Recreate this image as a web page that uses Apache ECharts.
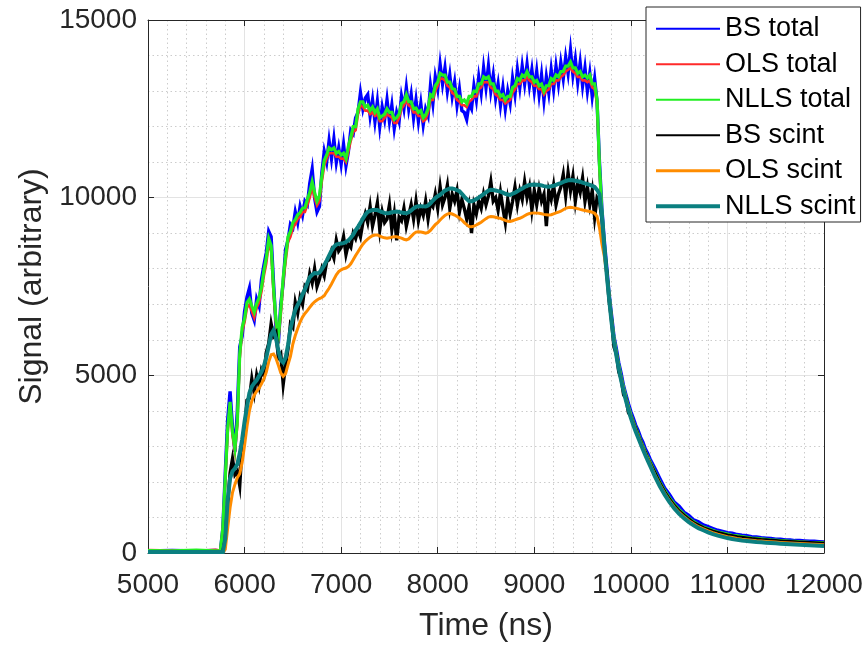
<!DOCTYPE html>
<html>
<head>
<meta charset="utf-8">
<script src="https://cdn.jsdelivr.net/npm/echarts@6/dist/echarts.min.js"></script>
<style>
html,body{margin:0;padding:0;background:#fff;}
#chart{width:868px;height:648px;}
</style>
</head>
<body>
<div id="chart"></div>
<script>
// Time axis (ns) shared by all series
const timeNs = [
5000,5250,5500,5700,5750,
5775,5800,5825,5850,5875,5900,5925,5950,5975,6000,
6025,6050,6075,6100,6125,6150,6175,6200,6225,6250,
6275,6300,6325,6350,6375,6400,6425,6450,6475,6500,
6525,6550,6575,6600,6625,6650,6675,6700,6725,6750,
6775,6800,6825,6850,6875,6900,6925,6950,6975,7000,
7025,7050,7075,7100,7125,7150,7175,7200,7225,7250,
7275,7300,7325,7350,7375,7400,7425,7450,7475,7500,
7525,7550,7575,7600,7625,7650,7675,7700,7725,7750,
7775,7800,7825,7850,7875,7900,7925,7950,7975,8000,
8025,8050,8075,8100,8125,8150,8175,8200,8225,8250,
8275,8300,8325,8350,8375,8400,8425,8450,8475,8500,
8525,8550,8575,8600,8625,8650,8675,8700,8725,8750,
8775,8800,8825,8850,8875,8900,8925,8950,8975,9000,
9025,9050,9075,9100,9125,9150,9175,9200,9225,9250,
9275,9300,9325,9350,9375,9400,9425,9450,9475,9500,
9525,9550,9575,9600,9625,9650,9675,9700,9725,9750,
9775,9800,9825,9850,9875,9900,9925,9950,9975,10000,
10025,10050,10075,10100,10125,10150,10175,10200,
10250,10300,10350,10400,10450,10500,10550,10600,10650,10700,10750,10800,
10850,10900,10950,11000,11050,11100,11150,11200,11250,11300,11350,11400,
11450,11500,11550,11600,11650,11700,11750,11800,11850,11900,11950,12000
];

const bsTotal = [
60,70,60,70,60,
700,2250,3750,4550,3550,2850,4000,5800,6100,6800,
7200,7450,6750,6550,7150,6950,7700,8100,8450,9050,
8900,7600,6400,5900,7000,7600,8550,8800,9250,9150,
9600,9300,9750,9500,9900,9800,10400,10800,10000,9600,
9750,10700,11300,11000,11600,11100,11650,11000,11400,10950,
11500,10900,11300,11900,11800,12250,12400,12950,12500,12800,
12900,12300,12750,12150,12700,12000,12550,12200,12750,12150,
12600,11950,12400,12150,12850,12500,13100,12500,12900,12250,
12750,12150,12650,12050,12500,12300,13150,12650,13400,13050,
13750,13200,13650,13000,13450,12850,13250,12600,13050,12450,
12400,12200,12650,12500,13150,12750,13400,12950,13650,13100,
13700,13000,13450,12800,13200,12600,13100,12500,13000,12650,
13350,12900,13600,13100,13700,13200,13750,13150,13600,13000,
13550,12900,13450,12750,13400,12950,13600,13050,13700,13200,
13800,13350,13950,13500,14150,13450,13900,13250,13800,13150,
13650,13000,13500,12850,13350,12700,11000,9700,8800,8050,
7300,6700,6100,5750,5350,5050,4700,4450,4200,3980,
3800,3600,3450,3260,3120,2930,2800,2640,
2380,2100,1830,1650,1430,1320,1150,1060,930,880,790,740,
690,640,610,570,560,520,500,490,460,450,430,420,
410,390,390,370,370,350,350,340,330,330,320,310
];

const olsTotal = [
80,70,60,90,70,
650,2000,3380,4150,3300,2850,3600,5480,6230,6500,
6900,7000,6800,6620,6900,7050,7350,7800,8150,8700,
8500,7300,6450,6000,6700,7600,8200,8750,8900,9150,
9250,9400,9450,9600,9600,9800,10000,10300,10000,9780,
9900,10450,10900,11100,11250,11250,11250,11150,11150,11100,
11100,11000,11300,11600,11850,11900,12350,12600,12550,12450,
12450,12350,12400,12300,12350,12150,12150,12250,12350,12300,
12250,12100,12100,12250,12500,12600,12750,12600,12550,12400,
12400,12300,12300,12150,12200,12400,12750,12750,13000,13150,
13350,13350,13300,13150,13100,12950,12900,12750,12700,12600,
12600,12550,12700,12750,12850,12850,13050,13100,13250,13250,
13250,13100,13050,12900,12850,12750,12750,12650,12700,12750,
12950,13050,13200,13200,13300,13300,13400,13300,13250,13150,
13150,13050,13050,12900,13000,13050,13200,13200,13300,13300,
13400,13450,13550,13600,13650,13550,13500,13400,13400,13300,
13300,13250,13300,13100,13050,12650,10800,9550,8650,7900,
7200,6550,6000,5600,5250,4900,4620,4350,4100,3870,
3680,3500,3330,3160,2990,2830,2680,2540,
2250,1980,1740,1530,1350,1200,1070,960,870,790,720,670,
620,580,550,520,495,475,455,435,415,400,390,380,
365,355,345,335,325,320,310,305,295,290,285,280
];

const nllsTotal = [
70,60,80,60,70,
700,2100,3500,4250,3400,2950,3700,5600,6350,6600,
7050,7150,6950,6780,7020,7180,7480,7950,8300,8850,
8650,7450,6550,6100,6850,7750,8350,8900,9050,9300,
9380,9520,9580,9700,9720,9950,10150,10450,10150,9900,
10050,10600,11050,11200,11400,11350,11400,11250,11300,11200,
11250,11100,11450,11700,12000,12000,12500,12700,12700,12550,
12600,12450,12550,12400,12500,12250,12300,12350,12500,12400,
12400,12200,12250,12350,12650,12700,12900,12700,12700,12500,
12520,12400,12450,12250,12330,12500,12900,12850,13150,13250,
13500,13450,13450,13250,13250,13070,13050,12850,12850,12700,
12750,12650,12850,12850,13000,12980,13200,13200,13400,13350,
13400,13200,13200,13000,13000,12850,12900,12750,12850,12850,
13100,13150,13350,13300,13450,13400,13550,13400,13400,13250,
13300,13150,13200,13000,13150,13150,13350,13300,13450,13400,
13550,13550,13700,13700,13820,13650,13650,13500,13550,13400,
13450,13370,13450,13200,13200,12750,10900,9600,8700,7950,
7250,6600,6050,5650,5280,4950,4650,4370,4120,3900,
3700,3520,3350,3180,3010,2850,2700,2560,
2280,2000,1760,1550,1370,1220,1090,980,880,800,730,680,
630,590,560,530,500,480,460,440,420,410,395,385,
370,360,350,340,330,325,315,310,300,295,290,285
];

const bsScint = [
20,30,20,30,20,
40,380,1350,2250,2650,2200,2300,1900,3050,3450,
4300,4350,4900,4500,5000,4700,5150,5000,5650,5900,
6450,6100,6200,5500,5600,4750,5300,5750,6450,6350,
7050,6750,7200,7000,7500,7400,7850,7600,8000,7500,
7700,8000,7800,8200,8250,8500,8300,8800,8500,8600,
8900,8400,8700,8600,9000,8850,9100,8900,9300,9550,
9300,9750,9200,9500,9850,9100,9600,9300,9400,9800,
9100,9550,8800,9450,9350,9700,9200,9500,9800,9400,
9900,9350,9700,9500,9900,9400,9850,9750,10100,9700,
10300,9800,10000,10350,9700,10100,9900,10200,9600,9950,
9700,9400,9750,9000,9800,9550,9900,9700,10100,9800,
10050,10450,9900,10000,9650,10150,9700,9300,9950,9550,
9900,10300,9800,10200,9950,10450,10000,10300,9650,10200,
9800,10250,9900,10100,9200,10200,9950,10350,9800,10100,
10300,10650,10050,10700,10200,10600,9900,10400,10150,10550,
9900,10300,9800,10200,9450,10000,9900,9400,8550,7900,
7100,6550,5800,5600,5100,4900,4450,4350,3950,3850,
3650,3500,3300,3150,2950,2830,2650,2520,
2250,1960,1720,1510,1330,1180,1060,950,850,780,710,660,
610,570,540,500,480,450,440,420,400,390,375,365,
355,345,335,325,318,310,300,295,288,282,276,270
];

const olsScint = [
20,20,20,20,20,
20,100,700,1280,1700,1930,2120,2230,2550,3030,
3560,4000,4280,4440,4550,4640,4760,4900,5090,5380,
5580,5600,5480,5280,5070,4970,5050,5300,5530,5880,
6120,6320,6500,6640,6740,6820,6910,7000,7070,7120,
7160,7190,7240,7350,7450,7570,7700,7830,7920,7970,
8000,8020,8060,8140,8250,8370,8480,8590,8690,8770,
8830,8890,8930,8950,8950,8920,8890,8870,8860,8870,
8890,8900,8900,8880,8860,8830,8810,8840,8910,8980,
9030,9040,9035,9020,9000,9020,9080,9160,9240,9300,
9370,9440,9500,9540,9560,9540,9510,9470,9430,9370,
9300,9240,9190,9180,9200,9230,9270,9310,9360,9410,
9455,9470,9465,9450,9430,9420,9390,9360,9335,9330,
9350,9375,9400,9420,9450,9490,9530,9555,9565,9570,
9565,9560,9545,9530,9520,9510,9520,9545,9570,9595,
9620,9660,9700,9720,9730,9720,9705,9690,9670,9655,
9640,9625,9610,9590,9560,9470,9150,8700,8350,7850,
7200,6550,6000,5600,5230,4900,4610,4330,4080,3850,
3650,3470,3300,3130,2960,2800,2650,2500,
2190,1920,1680,1470,1290,1140,1020,910,820,740,680,620,
570,530,495,460,435,410,390,375,360,345,335,325,
315,307,298,290,283,275,268,260,253,247,241,235
];

const nllsScint = [
30,30,30,30,30,
30,400,1500,2100,2300,2380,2500,2800,3200,3700,
4120,4500,4680,4780,4860,4980,5100,5260,5500,5820,
6150,6270,6050,5700,5430,5360,5500,5850,6300,6600,
6840,6980,7110,7280,7420,7600,7760,7830,7880,7870,
7890,7990,8100,8230,8370,8510,8620,8680,8700,8710,
8720,8750,8800,8870,8960,9080,9180,9290,9410,9520,
9600,9630,9650,9650,9650,9620,9590,9570,9560,9570,
9590,9600,9610,9600,9580,9570,9560,9590,9640,9700,
9740,9760,9760,9755,9750,9780,9840,9920,9990,10040,
10080,10140,10200,10230,10260,10255,10240,10210,10180,10110,
10030,9960,9900,9900,9920,9960,10000,10050,10100,10150,
10200,10220,10215,10200,10185,10170,10140,10110,10090,10080,
10110,10140,10180,10220,10260,10300,10330,10355,10365,10370,
10365,10360,10345,10325,10315,10310,10320,10335,10360,10385,
10410,10440,10470,10490,10500,10490,10475,10460,10450,10425,
10400,10380,10360,10330,10300,10220,10100,9500,8600,7850,
7150,6500,5950,5550,5180,4850,4560,4280,4030,3800,
3600,3420,3250,3080,2910,2750,2600,2450,
2150,1880,1640,1430,1250,1100,980,870,780,700,640,580,
530,490,455,420,395,370,350,340,325,310,300,290,
280,272,263,255,248,240,233,225,218,212,206,200
];

const seriesNames = ['BS total','OLS total','NLLS total','BS scint','OLS scint','NLLS scint'];
const seriesValues = [bsTotal, olsTotal, nllsTotal, bsScint, olsScint, nllsScint];
const seriesColors = ['#0000ff','#ff2a2a','#22ee22','#000000','#ff8c00','#0b7f80'];
const seriesWidths = [3.4,2.6,3.2,3.4,3,4];
const legendWidths = [2,2,2,2,3,4];

const xTicks = [5000,6000,7000,8000,9000,10000,11000,12000];
const yTicks = [0,5000,10000,15000];

const FONT = "'Liberation Sans', Arial, Helvetica, sans-serif";
const TXT = '#262626';

const chart = echarts.init(document.getElementById('chart'), null, {renderer:'canvas'});

const series = seriesNames.map((name, k) => ({
  name: name,
  type: 'line',
  data: timeNs.map((t, i) => [t, seriesValues[k][i]]),
  showSymbol: false,
  symbol: 'none',
  lineStyle: {color: seriesColors[k], width: seriesWidths[k], join: 'miter'},
  itemStyle: {color: seriesColors[k]},
  emphasis: {disabled: true},
  animation: false,
  clip: true,
  xAxisIndex: 0,
  yAxisIndex: 0,
  z: 2 + k
}));

const baseAxis = {
  axisLine: {show: true, onZero: false, lineStyle: {color: TXT, width: 1}},
  axisTick: {show: true, inside: true, length: 6, lineStyle: {color: TXT, width: 1}},
};
const plain = v => String(v);

chart.setOption({
  backgroundColor: '#ffffff',
  animation: false,
  grid: {left: 148, right: 44, top: 20, bottom: 95, containLabel: false},
  xAxis: [{
    type: 'value', position: 'bottom',
    min: xTicks[0], max: xTicks[xTicks.length-1], interval: 1000,
    ...baseAxis,
    axisLabel: {fontSize: 28, color: TXT, fontFamily: FONT, margin: 18, formatter: plain},
    splitLine: {show: true, lineStyle: {color: '#e3e3e3', width: 1}},
    minorTick: {show: false, splitNumber: 5},
    minorSplitLine: {show: true, lineStyle: {color: '#cccccc', width: 1, type: [1.5, 3]}},
    name: 'Time (ns)', nameLocation: 'middle', nameGap: 57,
    nameTextStyle: {fontSize: 32, color: TXT, fontFamily: FONT}
  },{
    type: 'value', position: 'top',
    min: xTicks[0], max: xTicks[xTicks.length-1], interval: 1000,
    ...baseAxis,
    axisLabel: {show: false}, splitLine: {show: false}
  }],
  yAxis: [{
    type: 'value', position: 'left',
    min: yTicks[0], max: yTicks[yTicks.length-1], interval: 5000,
    ...baseAxis,
    axisLabel: {fontSize: 28, color: TXT, fontFamily: FONT, margin: 11, formatter: plain},
    splitLine: {show: true, lineStyle: {color: '#e3e3e3', width: 1}},
    minorTick: {show: false, splitNumber: 5},
    minorSplitLine: {show: true, lineStyle: {color: '#cccccc', width: 1, type: [1.5, 3]}},
    name: 'Signal (arbitrary)', nameLocation: 'middle', nameGap: 98, nameRotate: 90,
    nameTextStyle: {fontSize: 32, color: TXT, fontFamily: FONT}
  },{
    type: 'value', position: 'right',
    min: yTicks[0], max: yTicks[yTicks.length-1], interval: 5000,
    ...baseAxis,
    axisLabel: {show: false}, splitLine: {show: false}
  }],
  legend: {
    show: true,
    orient: 'vertical', left: 646, top: 7,
    padding: [8, 5, 2, 8],
    itemWidth: 64, itemHeight: 14, itemGap: 8,
    backgroundColor: '#ffffff', borderColor: '#262626', borderWidth: 1,
    textStyle: {fontSize: 27, color: '#000000', fontFamily: FONT, lineHeight: 27.5},
    itemStyle: {opacity: 0},
    data: seriesNames.map((n, k) => ({name: n, lineStyle: {width: legendWidths[k], color: seriesColors[k]}})),
    selectedMode: false,
    z: 20
  },
  series: series
});
</script>
</body>
</html>
